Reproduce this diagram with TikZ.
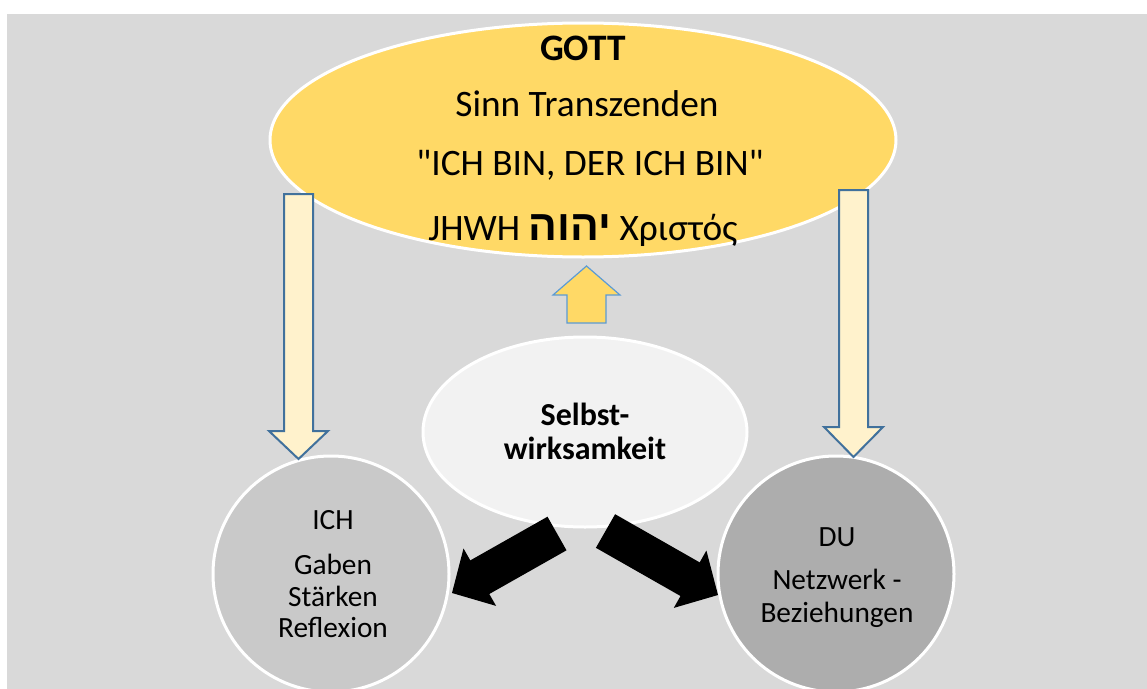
\documentclass[tikz,border=0pt]{standalone}
\usepackage{fontspec}
\setmainfont{Carlito}
\newfontfamily\plaincal{Carlito}
\newfontfamily\hebfont[Script=Hebrew]{Liberation Sans}
\TeXXeTstate=1
\usetikzlibrary{shapes.geometric}
\definecolor{bgray}{HTML}{D9D9D9}
\definecolor{gold}{HTML}{FFD966}
\definecolor{pale}{HTML}{FFF2CC}
\definecolor{darkblue}{HTML}{41719C}
\definecolor{lightblue}{HTML}{5B9BD5}
\definecolor{midfill}{HTML}{F2F2F2}
\definecolor{ichfill}{HTML}{C9C9C9}
\definecolor{dufill}{HTML}{ADADAD}
\tikzset{
  bubble/.style={draw=white, line width=2.25pt, inner sep=0pt, outer sep=0pt},
  downarrow/.style={draw=darkblue, line width=1.5pt, fill=pale, line join=miter},
  uparrow/.style={draw=lightblue, line width=0.9pt, fill=gold},
  blackarrow/.style={fill=black},
  txt/.style={inner sep=0pt, anchor=base},
  bigtxt/.style={txt, font=\fontsize{28}{32}\selectfont},
  circtxt/.style={txt, font=\fontsize{22}{26}\selectfont},
}
\begin{document}
\begin{tikzpicture}[x=0.75pt,y=-0.75pt]
\useasboundingbox (0,0) rectangle (1147,689);
\fill[white] (0,0) rectangle (1147,689);
\fill[bgray] (7,14) rectangle (1147,689);

% top ellipse
\node[bubble, ellipse, fill=gold, minimum width=469.5pt, minimum height=175.5pt] (gott) at (583,140) {};

% middle ellipse
\node[bubble, ellipse, fill=midfill, minimum width=243pt, minimum height=142.5pt] (selbst) at (585,432) {};

% circles
\node[bubble, circle, fill=ichfill, minimum size=177pt] (ich) at (331,574) {};
\node[bubble, circle, fill=dufill, minimum size=177pt] (du) at (836,574) {};

% down arrows (GOTT -> ICH, GOTT -> DU)
\draw[downarrow] (284,194) -- (313,194) -- (313,431) -- (328,431) -- (298.5,459) -- (269,431) -- (284,431) -- cycle;
\draw[downarrow] (839,190) -- (868,190) -- (868,427) -- (883,427) -- (853.5,457) -- (824,427) -- (839,427) -- cycle;

% up arrow (Selbstwirksamkeit -> GOTT)
\draw[uparrow] (567,323) -- (606,323) -- (606,295) -- (620,295) -- (586.5,266) -- (553,295) -- (567,295) -- cycle;

% black arrows
\fill[blackarrow] (547.5,516.7) -- (470.3,560.4) -- (463.5,548.5) -- (452,593) -- (496.1,605.9) -- (489.3,594) -- (566.5,550.3) -- cycle;
\fill[blackarrow] (615.1,514.2) -- (699.7,562.4) -- (706.4,550.5) -- (718,595) -- (673.8,607.9) -- (680.5,596) -- (595.9,547.8) -- cycle;

% texts in GOTT
\node[bigtxt, font=\fontsize{28}{32}\selectfont\bfseries] (t1) at (583,60) {GOTT};
\node[bigtxt] (t2) at (587,116) {Sinn Transzenden};
\node[bigtxt, font=\plaincal\fontsize{28}{32}\selectfont] (t3) at (590,175) {"ICH BIN, DER ICH BIN"};
\node[bigtxt] (t4) at (583,240) {JHWH {\hebfont\bfseries\fontsize{32}{36}\selectfont\beginR יהוה\endR} Χριστός};

% Selbstwirksamkeit
\node[txt, font=\fontsize{24}{28}\selectfont\bfseries] (s1) at (585,425) {Selbst-};
\node[txt, font=\fontsize{24}{28}\selectfont\bfseries] (s2) at (585,459) {wirksamkeit};

% ICH
\node[circtxt] (i1) at (333,529) {ICH};
\node[circtxt] (i2) at (333,574) {Gaben};
\node[circtxt] (i3) at (333,606) {Stärken};
\node[circtxt] (i4) at (333,637) {Reflexion};

% DU
\node[circtxt] (d1) at (837,546) {DU};
\node[circtxt] (d2) at (837,589) {Netzwerk -};
\node[circtxt] (d3) at (837,622) {Beziehungen};
\end{tikzpicture}
\end{document}
